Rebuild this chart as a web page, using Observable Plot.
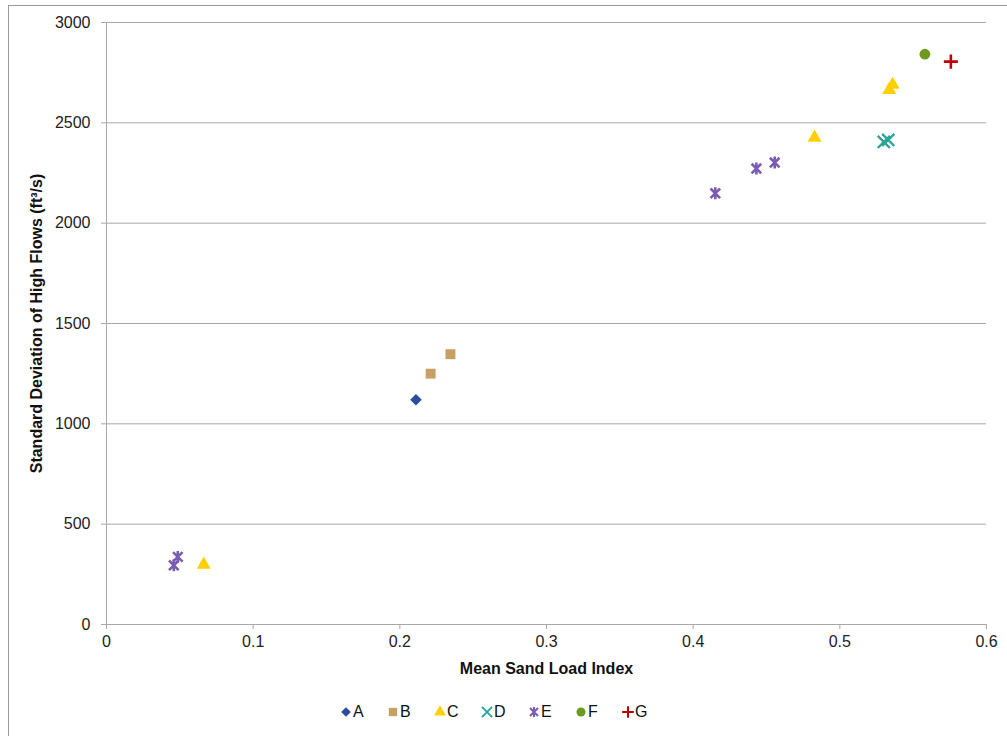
<!DOCTYPE html>
<html>
<head>
<meta charset="utf-8">
<script src="https://cdn.jsdelivr.net/npm/d3@7"></script>
<script src="https://cdn.jsdelivr.net/npm/@observablehq/plot@0.6"></script>
<style>
  html, body { margin: 0; padding: 0; background: #fff; }
  #wrap { position: relative; width: 1007px; height: 736px; overflow: hidden; font-family: "Liberation Sans", Arial, sans-serif; }
  #frame { position: absolute; left: 8px; top: 5px; width: 1100px; height: 800px; border-left: 1px solid #9a9a9a; border-top: 1px solid #9a9a9a; }
  #chart { position: absolute; left: 0; top: 0; }
  #chart svg text { font-size: 16px; }
  #legend { position: absolute; left: 0; top: 703px; width: 1007px; display: flex; justify-content: center; font-size: 16px; color: #111; }
  .item { display: flex; align-items: center; width: 47px; }
</style>
</head>
<body>
<div id="wrap">
  <div id="frame"></div>
  <div id="chart"></div>
  <div id="legend"></div>
</div>
<script>
// Series names and values
const seriesNames = ["A", "B", "C", "D", "E", "F", "G"];
const xA = [0.211];                 const yA = [1120];
const xB = [0.221, 0.2345];          const yB = [1250, 1347];
const xC = [0.0663, 0.4828, 0.5337, 0.536]; const yC = [298, 2426, 2664, 2690];
const xD = [0.530, 0.533];           const yD = [2405, 2415];
const xE = [0.0459, 0.0486, 0.4151, 0.4431, 0.4556]; const yE = [295, 337, 2149, 2272, 2302];
const xF = [0.558];                  const yF = [2842];
const xG = [0.5757];                 const yG = [2805];
const yTicks = [0, 500, 1000, 1500, 2000, 2500, 3000];
const xTicks = [0, 0.1, 0.2, 0.3, 0.4, 0.5, 0.6];

// Excel-style "star" marker: an X with a vertical bar
const starSymbol = {
  draw(context, size) {
    const r = Math.sqrt(size / Math.PI);
    const d = r * 0.8;
    context.moveTo(-d, -d); context.lineTo(d, d);
    context.moveTo(d, -d); context.lineTo(-d, d);
    context.moveTo(0, -r); context.lineTo(0, r);
  }
};

const styles = {
  A: {symbol: "diamond2", fill: "#2a4d9c", stroke: "none", r: 5.2},
  B: {symbol: "square", fill: "#c9a063", stroke: "none", r: 5.6},
  C: {symbol: "triangle", fill: "#ffd000", stroke: "none", r: 5.2},
  D: {symbol: "times", fill: "none", stroke: "#2aa597", r: 5.6, sw: 2.4},
  E: {symbol: starSymbol, fill: "none", stroke: "#7b5cb3", r: 6, sw: 2.6},
  F: {symbol: "circle", fill: "#6b9a1e", stroke: "none", r: 5.4},
  G: {symbol: "plus", fill: "none", stroke: "#c00000", r: 4.6, sw: 2.6}
};
const xs = {A: xA, B: xB, C: xC, D: xD, E: xE, F: xF, G: xG};
const ys = {A: yA, B: yB, C: yC, D: yD, E: yE, F: yF, G: yG};

const dotMarks = seriesNames.map(name => {
  const s = styles[name];
  const data = xs[name].map((x, i) => ({x, y: ys[name][i]}));
  return Plot.dot(data, {
    x: "x", y: "y", symbol: s.symbol, r: s.r,
    fill: s.fill, stroke: s.stroke, strokeWidth: s.sw || 0
  });
});

const chart = Plot.plot({
  width: 1007,
  height: 690,
  marginLeft: 106,
  marginRight: 21,
  marginTop: 22,
  marginBottom: 66,
  style: {fontFamily: "Liberation Sans, Arial, sans-serif", fontSize: "16px", color: "#222", background: "transparent"},
  x: {domain: [0, 0.6]},
  y: {domain: [0, 3000]},
  marks: [
    Plot.gridY(yTicks, {stroke: "#a8a8a8", strokeOpacity: 1, strokeWidth: 1}),
    Plot.ruleX([0], {stroke: "#a8a8a8", strokeWidth: 1}),
    Plot.axisY(yTicks, {tickSize: 5, tickPadding: 11, stroke: "#a8a8a8", fill: "#222",
      tickFormat: d => String(d),
      label: "Standard Deviation of High Flows (ft³/s)", labelAnchor: "center", labelArrow: "none", labelOffset: 76}),
    Plot.axisX(xTicks, {tickSize: 5, tickPadding: 6, stroke: "#a8a8a8", fill: "#222",
      tickFormat: d => String(d),
      label: "Mean Sand Load Index", labelAnchor: "center", labelArrow: "none", labelOffset: 49}),
    ...dotMarks
  ]
});
// make axis titles bold
chart.querySelectorAll("[aria-label='x-axis label'] text, [aria-label='y-axis label'] text").forEach(t => {
  t.setAttribute("font-weight", "bold");
  t.setAttribute("fill", "#111");
});
document.getElementById("chart").appendChild(chart);

// legend
const symMap = {circle: d3.symbolCircle, square: d3.symbolSquare, triangle: d3.symbolTriangle,
  diamond2: d3.symbolDiamond2, times: d3.symbolTimes, plus: d3.symbolPlus};
const legend = d3.select("#legend");
seriesNames.forEach(name => {
  const s = styles[name];
  const item = legend.append("div").attr("class", "item");
  const svg = item.append("svg").attr("width", 14).attr("height", 14);
  const size = Math.PI * s.r * s.r * 0.7;
  const sym = typeof s.symbol === "string" ? symMap[s.symbol] : s.symbol;
  svg.append("path")
    .attr("transform", "translate(7,7)")
    .attr("d", d3.symbol(sym, size)())
    .attr("fill", s.fill)
    .attr("stroke", s.stroke)
    .attr("stroke-width", (s.sw || 0) * 0.8);
  item.append("span").text(name);
});
</script>
</body>
</html>
